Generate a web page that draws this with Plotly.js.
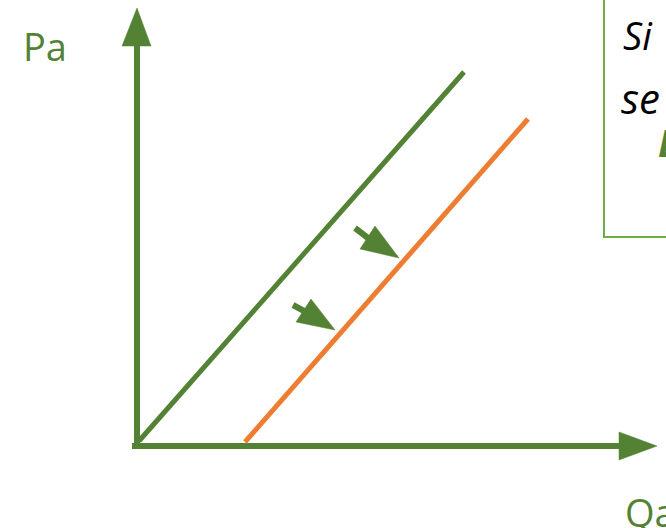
<!DOCTYPE html>
<html>
<head>
<meta charset="utf-8">
<script src="https://cdn.plot.ly/plotly-3.0.1.min.js"></script>
<style>html,body{margin:0;padding:0;background:#fff;}#chart{width:666px;height:528px;}</style>
</head>
<body>
<div id="chart"></div>
<script>
// Supply curves (quantity Qa, price Pa) in diagram units
var supplyX = [2, 327];
var supplyY = [4, 373];
var shiftedX = [108, 391];
var shiftedY = [3, 326];

// Axis shafts and heads
var yAxisX = [0, 0];
var yAxisY = [-1, 400];
var yHeadX = [-15, 0, 14, -15];
var yHeadY = [399, 437, 399, 399];
var xAxisX = [-5, 484];
var xAxisY = [-1, -1];
var xHeadX = [482, 520, 482, 482];
var xHeadY = [13, -1, -15, 13];

// Shift arrows
var arrow1ShaftX = [218, 231];
var arrow1ShaftY = [217, 207];
var arrow1HeadX = [238, 262, 223, 238];
var arrow1HeadY = [219, 187, 196, 219];
var arrow2ShaftX = [156, 167];
var arrow2ShaftY = [140, 134];
var arrow2HeadX = [174, 198, 159, 174];
var arrow2HeadY = [146, 115, 123, 146];

// Note box outline
var boxX = [467, 467, 560];
var boxY = [470, 208, 208];

var GREEN = '#548235';
var ORANGE = '#ed7d31';
var BOX = '#70ad47';

function line(x, y, color, w) {
  return {x: x, y: y, mode: 'lines', type: 'scatter', line: {color: color, width: w}, hoverinfo: 'skip', showlegend: false};
}
function tri(x, y, color) {
  return {x: x, y: y, mode: 'lines', type: 'scatter', fill: 'toself', fillcolor: color, line: {color: color, width: 0.5}, hoverinfo: 'skip', showlegend: false};
}

var traces = [
  line(boxX, boxY, BOX, 2),
  line(yAxisX, yAxisY, GREEN, 6),
  tri(yHeadX, yHeadY, GREEN),
  line(xAxisX, xAxisY, GREEN, 6),
  tri(xHeadX, xHeadY, GREEN),
  line(supplyX, supplyY, GREEN, 5),
  line(shiftedX, shiftedY, ORANGE, 5),
  line(arrow1ShaftX, arrow1ShaftY, GREEN, 6),
  tri(arrow1HeadX, arrow1HeadY, GREEN),
  line(arrow2ShaftX, arrow2ShaftY, GREEN, 6),
  tri(arrow2HeadX, arrow2HeadY, GREEN)
];

var font = "'Open Sans', 'Noto Sans', sans-serif";
var layout = {
  width: 666, height: 528,
  margin: {l: 0, r: 0, t: 0, b: 0, pad: 0},
  paper_bgcolor: '#ffffff', plot_bgcolor: '#ffffff',
  xaxis: {range: [-137, 529], visible: false, fixedrange: true},
  yaxis: {range: [-83, 445], visible: false, fixedrange: true},
  showlegend: false,
  annotations: [
    {text: 'Pa', x: -116, y: 399, xref: 'x', yref: 'y', xanchor: 'left', yanchor: 'middle', showarrow: false, font: {family: font, size: 38, color: GREEN}},
    {text: 'Qa', x: 486, y: -67, xref: 'x', yref: 'y', xanchor: 'left', yanchor: 'middle', showarrow: false, font: {family: font, size: 38, color: GREEN}},
    {text: '<i>Si</i>', x: 484, y: 410, xref: 'x', yref: 'y', xanchor: 'left', yanchor: 'middle', showarrow: false, font: {family: font, size: 38, color: '#000000'}},
    {text: '<i>se</i>', x: 482, y: 348, xref: 'x', yref: 'y', xanchor: 'left', yanchor: 'middle', showarrow: false, font: {family: font, size: 42, color: '#000000'}},
    {text: '<b><i>D</i></b>', x: 519, y: 303, xref: 'x', yref: 'y', xanchor: 'left', yanchor: 'middle', showarrow: false, font: {family: font, size: 38, color: GREEN}}
  ]
};

Plotly.newPlot('chart', traces, layout, {staticPlot: true, displayModeBar: false});
</script>
</body>
</html>
